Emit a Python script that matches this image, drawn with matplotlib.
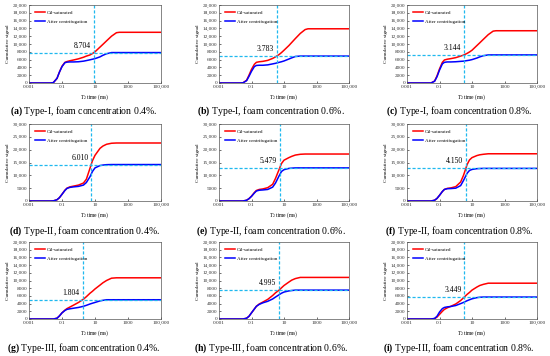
import numpy as np
import matplotlib
matplotlib.use("Agg")
import matplotlib.pyplot as plt
from matplotlib.ticker import FuncFormatter

plt.rcParams.update({
    "font.family": ["Liberation Serif", "DejaVu Serif"],
    "mathtext.fontset": "custom",
    "mathtext.rm": "Liberation Serif",
    "mathtext.it": "Liberation Serif:italic",
    "mathtext.bf": "Liberation Serif:bold",
})

# T2 relaxation time grid (ms), shared by all panels
T2 = [0.001, 0.02, 0.03, 0.05, 0.07, 0.1, 0.15, 0.2, 0.3, 0.5, 1, 2, 3, 5, 7,
      10, 20, 30, 50, 100, 200, 300, 500, 1000, 100000]

# cumulative signal
red_a = [0, 0, 100, 1200, 2800, 4300, 5300, 5500, 5700, 5900, 6200, 6600, 6900, 7200, 7550,
         8000, 9200, 9900, 10800, 12000, 12900, 13000, 13000, 13000, 13000]
blue_a = [0, 0, 100, 1200, 2800, 4200, 5200, 5350, 5400, 5400, 5450, 5600, 5750, 5950, 6100,
          6250, 6700, 7100, 7500, 7800, 7800, 7800, 7800, 7800, 7800]
red_b = [0, 0, 50, 700, 2000, 3500, 4800, 5300, 5450, 5550, 5800, 6300, 6700, 7300, 7800,
         8400, 9600, 10400, 11400, 12700, 13700, 13900, 13900, 13900, 13900]
blue_b = [0, 0, 50, 600, 1700, 3000, 4200, 4500, 4550, 4550, 4650, 4900, 5050, 5300, 5450,
          5650, 6150, 6450, 6800, 6900, 6900, 6900, 6900, 6900, 6900]
red_c = [0, 0, 0, 500, 1800, 3600, 5300, 5900, 6100, 6250, 6500, 6900, 7150, 7600, 7950,
         8400, 9600, 10300, 11200, 12400, 13300, 13400, 13400, 13400, 13400]
blue_c = [0, 0, 0, 450, 1600, 3300, 4900, 5300, 5400, 5400, 5450, 5550, 5600, 5750, 5850,
          6000, 6400, 6700, 7000, 7200, 7200, 7200, 7200, 7200, 7200]
red_d = [0, 0, 50, 500, 1300, 2600, 4200, 5000, 5500, 5800, 6200, 7000, 8500, 12800, 15700,
         17800, 20500, 21400, 22100, 22500, 22600, 22600, 22600, 22600, 22600]
blue_d = [0, 0, 50, 500, 1300, 2600, 4100, 4900, 5300, 5500, 5700, 6200, 7200, 9500, 11500,
          12900, 13800, 14000, 14150, 14200, 14200, 14200, 14200, 14200, 14200]
red_e = [0, 0, 0, 300, 900, 1900, 3300, 4100, 4500, 4700, 5200, 6500, 8800, 12300, 14600,
         15900, 16900, 17400, 17900, 18200, 18300, 18300, 18300, 18300, 18300]
blue_e = [0, 0, 0, 300, 900, 1800, 3100, 3900, 4200, 4300, 4500, 5400, 7000, 9800, 11500,
          12200, 12700, 12800, 12900, 12900, 12900, 12900, 12900, 12900, 12900]
red_f = [0, 0, 0, 300, 1000, 2200, 3700, 4500, 4900, 5100, 5600, 7400, 10000, 14200, 16000,
         16900, 17700, 18000, 18200, 18400, 18400, 18400, 18400, 18400, 18400]
blue_f = [0, 0, 0, 300, 1000, 2200, 3700, 4500, 4800, 4850, 5000, 6000, 8000, 10800, 11900,
          12300, 12600, 12650, 12700, 12700, 12700, 12700, 12700, 12700, 12700]
red_g = [0, 0, 0, 200, 800, 1600, 2300, 2700, 3100, 3600, 4300, 5150, 5800, 6700, 7200,
         7800, 8800, 9400, 10000, 10600, 10700, 10700, 10700, 10700, 10700]
blue_g = [0, 0, 0, 200, 800, 1600, 2200, 2500, 2650, 2800, 3000, 3300, 3550, 3900, 4100,
          4300, 4700, 4850, 5000, 5000, 5000, 5000, 5000, 5000, 5000]
red_h = [0, 0, 0, 200, 700, 1600, 2600, 3300, 3900, 4400, 5100, 6100, 6800, 7500, 8100,
         8700, 9600, 10100, 10500, 10800, 10800, 10800, 10800, 10800, 10800]
blue_h = [0, 0, 0, 200, 700, 1600, 2600, 3300, 3800, 4200, 4600, 5200, 5700, 6300, 6700,
          7000, 7300, 7400, 7500, 7500, 7500, 7500, 7500, 7500, 7500]
red_i = [0, 0, 0, 100, 500, 1200, 2000, 2500, 2900, 3300, 3900, 4800, 5500, 6400, 6900,
         7500, 8300, 8700, 9000, 9300, 9300, 9300, 9300, 9300, 9300]
blue_i = [0, 0, 0, 150, 700, 1800, 2700, 3000, 3150, 3250, 3500, 4000, 4300, 4750, 5000,
          5250, 5550, 5650, 5700, 5700, 5700, 5700, 5700, 5700, 5700]

cutoffs = [8.704, 3.783, 3.144, 6.010, 5.479, 4.150, 1.804, 4.995, 3.449]
levels = [7800, 6900, 7200, 14200, 12900, 12700, 5000, 7500, 5700]
ymax = [20000, 20000, 20000, 30000, 30000, 30000, 20000, 20000, 20000]
ystep = [2000, 2000, 2000, 5000, 5000, 5000, 2000, 2000, 2000]
letters = ["a", "b", "c", "d", "e", "f", "g", "h", "i"]
types = ["Type-I"] * 3 + ["Type-II"] * 3 + ["Type-III"] * 3
concs = ["0.4%", "0.6%", "0.8%"] * 3
reds = [red_a, red_b, red_c, red_d, red_e, red_f, red_g, red_h, red_i]
blues = [blue_a, blue_b, blue_c, blue_d, blue_e, blue_f, blue_g, blue_h, blue_i]
xticks = [0.001, 0.1, 10, 1000, 100000]

W, H = 550, 356
col_lr = [(29, 161), (219, 349), (407, 537)]
row_tb = [(5, 83), (124, 201), (242, 319)]
cap_y = [111, 231, 348]
cap_x = [84, 271, 459]

RED = "#ff0000"
BLUE = "#0000ff"
CYAN = "#1fb8ef"


def fmt_num(v, _pos=None):
    v = int(round(v))
    return f"{v:,}" if v >= 10000 else f"{v}"


def fmt_x(v, _pos=None):
    return "0.001" if v < 0.01 else fmt_num(v) if v >= 1 else "0.1"


fig = plt.figure(figsize=(W / 100, H / 100), dpi=100)

for k in range(9):
    r, c = divmod(k, 3)
    l, rt = col_lr[c]
    t, b = row_tb[r]
    ax = fig.add_axes([l / W, 1 - b / H, (rt - l) / W, (b - t) / H])
    ax.set_xscale("log")
    ax.plot(T2, reds[k], color=RED, lw=1.1, label="Oil-saturated")
    ax.plot(T2, blues[k], color=BLUE, lw=1.1, label="After centrifugation")
    ax.axvline(cutoffs[k], color=CYAN, lw=0.9, ls=(0, (2.5, 1.5)))
    ax.axhline(levels[k], color=CYAN, lw=0.9, ls=(0, (2.5, 1.5)))
    ax.annotate(f"{cutoffs[k]:.3f}", xy=(cutoffs[k], levels[k]),
                xytext=(-3, 3), textcoords="offset pixels",
                ha="right", va="bottom", fontsize=5.5)
    ax.set_xlim(0.001, 100000)
    ax.set_ylim(0, ymax[k])
    ax.set_xticks(xticks)
    ax.xaxis.set_major_formatter(FuncFormatter(fmt_x))
    ax.minorticks_off()
    ax.set_yticks(np.arange(0, ymax[k] + 1, ystep[k]))
    ax.yaxis.set_major_formatter(FuncFormatter(fmt_num))
    ax.tick_params(labelsize=3.8, length=1.5, width=0.4, pad=1.5, direction="in",
                   labelcolor="#333333")
    for s in ax.spines.values():
        s.set_linewidth(0.5)
        s.set_color("#555555")
    ax.set_xlabel(r"$T_2$ time (ms)", fontsize=4, labelpad=2)
    ax.set_ylabel("Cumulative signal", fontsize=3.8, labelpad=2)
    ax.legend(loc="upper left", bbox_to_anchor=(0.03, 0.96), frameon=False,
              fontsize=3.6, handlelength=2.0, handletextpad=0.4,
              labelspacing=0.9, borderaxespad=0)
    fig.text(cap_x[c] / W, 1 - cap_y[r] / H,
             r"$\mathbf{(" + letters[k] + ")}$ " + f"{types[k]}, foam concentration {concs[k]}.",
             ha="center", va="center", fontsize=7.0)

fig.savefig("out.png", dpi=100)
